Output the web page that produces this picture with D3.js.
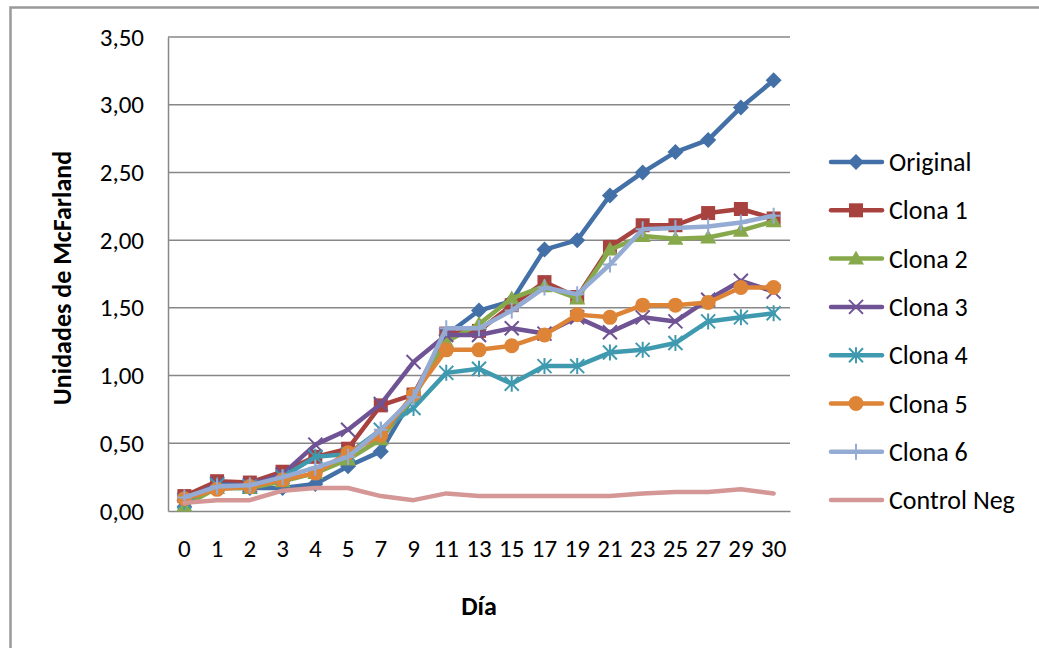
<!DOCTYPE html>
<html><head><meta charset="utf-8">
<script src="https://cdn.jsdelivr.net/npm/d3@7"></script>
<style>
body{margin:0;background:#fff;}
text{font-family:Carlito,Lato,"Open Sans",sans-serif;}
</style></head>
<body><svg id="c" width="1039" height="648"></svg>
<script>
const days = ["0","1","2","3","4","5","7","9","11","13","15","17","19","21","23","25","27","29","30"];
const yTicks = [0,0.5,1,1.5,2,2.5,3,3.5];
const seriesNames = ["Original","Clona 1","Clona 2","Clona 3","Clona 4","Clona 5","Clona 6","Control Neg"];
const original = [0.08,0.17,0.17,0.17,0.20,0.33,0.44,0.85,1.30,1.48,1.55,1.93,2.00,2.33,2.50,2.65,2.74,2.98,3.18];
const clona1   = [0.11,0.22,0.21,0.29,0.40,0.46,0.78,0.86,1.31,1.33,1.52,1.69,1.58,1.95,2.11,2.11,2.20,2.23,2.16];
const clona2   = [0.04,0.17,0.17,0.22,0.28,0.38,0.53,0.84,1.25,1.38,1.57,1.66,1.57,1.93,2.03,2.01,2.02,2.07,2.14];
const clona3   = [0.08,0.20,0.19,0.27,0.49,0.60,0.79,1.10,1.30,1.30,1.35,1.31,1.43,1.32,1.43,1.40,1.56,1.70,1.62];
const clona4   = [0.07,0.19,0.18,0.25,0.40,0.42,0.60,0.76,1.02,1.05,0.94,1.07,1.07,1.17,1.19,1.24,1.40,1.43,1.46];
const clona5   = [0.09,0.16,0.18,0.23,0.28,0.43,0.56,0.86,1.19,1.19,1.22,1.30,1.45,1.43,1.52,1.52,1.54,1.65,1.65];
const clona6   = [0.10,0.18,0.19,0.25,0.32,0.40,0.60,0.84,1.35,1.35,1.48,1.65,1.60,1.82,2.08,2.09,2.10,2.13,2.18];
const controlNeg = [0.06,0.08,0.08,0.15,0.17,0.17,0.11,0.08,0.13,0.11,0.11,0.11,0.11,0.11,0.13,0.14,0.14,0.16,0.13];
const seriesValues = [original,clona1,clona2,clona3,clona4,clona5,clona6,controlNeg];
const colors = ["#4470A8","#A8423F","#87A84B","#6F5394","#3F9AB0","#DD8437","#94ABD3","#D49795"];
const markers = ["diamond","square","triangle","x","star","circle","plus","none"];

const svg = d3.select("#c");
// outer frame
svg.append("path").attr("d","M10.5,648 L10.5,7.5 L1039,7.5").attr("fill","none").attr("stroke","#999").attr("stroke-width",2.5);

const L=168, R=790, T=37, B=511;
const x = d3.scaleBand().domain(days).range([L,R]);
const y = d3.scaleLinear().domain([0,3.5]).range([B,T]);
const fmt = v => d3.format(".2f")(v).replace(".",",");

// gridlines
svg.append("g").selectAll("line").data(yTicks.filter(d=>d>0)).join("line")
  .attr("x1",L).attr("x2",R).attr("y1",d=>y(d)).attr("y2",d=>y(d))
  .attr("stroke","#878787").attr("stroke-width",1.5);
// axes
const yAx = svg.append("g").attr("transform",`translate(${L},0)`)
  .call(d3.axisLeft(y).tickValues(yTicks).tickFormat(fmt).tickSize(0).tickPadding(24));
yAx.select(".domain").attr("stroke","#878787").attr("stroke-width",1.5);
yAx.selectAll("text").attr("font-size",25).attr("fill","#000");
const xAx = svg.append("g").attr("transform",`translate(0,${B})`)
  .call(d3.axisBottom(x).tickSize(0).tickPadding(28));
xAx.select(".domain").attr("stroke","#878787").attr("stroke-width",1.5);
xAx.selectAll("text").attr("font-size",25).attr("fill","#000");

svg.append("text").attr("transform","translate(71,278) rotate(-90)").attr("text-anchor","middle")
  .attr("font-size",26).attr("font-weight","bold").text("Unidades de McFarland");
svg.append("text").attr("x",479).attr("y",615).attr("text-anchor","middle")
  .attr("font-size",26).attr("font-weight","bold").text("Día");

function drawMarker(g, type, color){
  if(type==="diamond") g.append("path").attr("d","M0,-8 L8,0 L0,8 L-8,0Z").attr("fill",color);
  else if(type==="square") g.append("rect").attr("x",-7).attr("y",-7).attr("width",14).attr("height",14).attr("fill",color);
  else if(type==="triangle") g.append("path").attr("d","M0,-8 L8,6 L-8,6Z").attr("fill",color);
  else if(type==="circle") g.append("circle").attr("r",7.5).attr("fill",color);
  else if(type==="x") g.append("path").attr("d","M-7,-7 L7,7 M-7,7 L7,-7").attr("stroke",color).attr("stroke-width",2);
  else if(type==="star") g.append("path").attr("d","M-7,-7 L7,7 M-7,7 L7,-7 M0,-8 L0,8").attr("stroke",color).attr("stroke-width",2);
  else if(type==="plus") g.append("path").attr("d","M-7,0 L7,0 M0,-8 L0,8").attr("stroke",color).attr("stroke-width",2);
}

const line = d3.line().x((d,i)=>x(days[i])+x.bandwidth()/2).y(d=>y(d));
seriesValues.forEach((vals,si)=>{
  const g = svg.append("g");
  g.append("path").attr("d",line(vals)).attr("fill","none").attr("stroke",colors[si])
    .attr("stroke-width",4.5).attr("stroke-linejoin","round").attr("stroke-linecap","round");
  vals.forEach((v,i)=>{
    const m = g.append("g").attr("transform",`translate(${x(days[i])+x.bandwidth()/2},${y(v)})`);
    drawMarker(m, markers[si], colors[si]);
  });
});

// legend
const leg = svg.append("g");
seriesNames.forEach((n,i)=>{
  const yy = 162 + i*48.3;
  leg.append("line").attr("x1",831).attr("x2",882).attr("y1",yy).attr("y2",yy)
    .attr("stroke",colors[i]).attr("stroke-width",4.5).attr("stroke-linecap","round");
  const m = leg.append("g").attr("transform",`translate(856,${yy})`);
  drawMarker(m, markers[i], colors[i]);
  leg.append("text").attr("x",889).attr("y",yy).attr("dy","0.35em").attr("font-size",26).text(n);
});
</script></body></html>
